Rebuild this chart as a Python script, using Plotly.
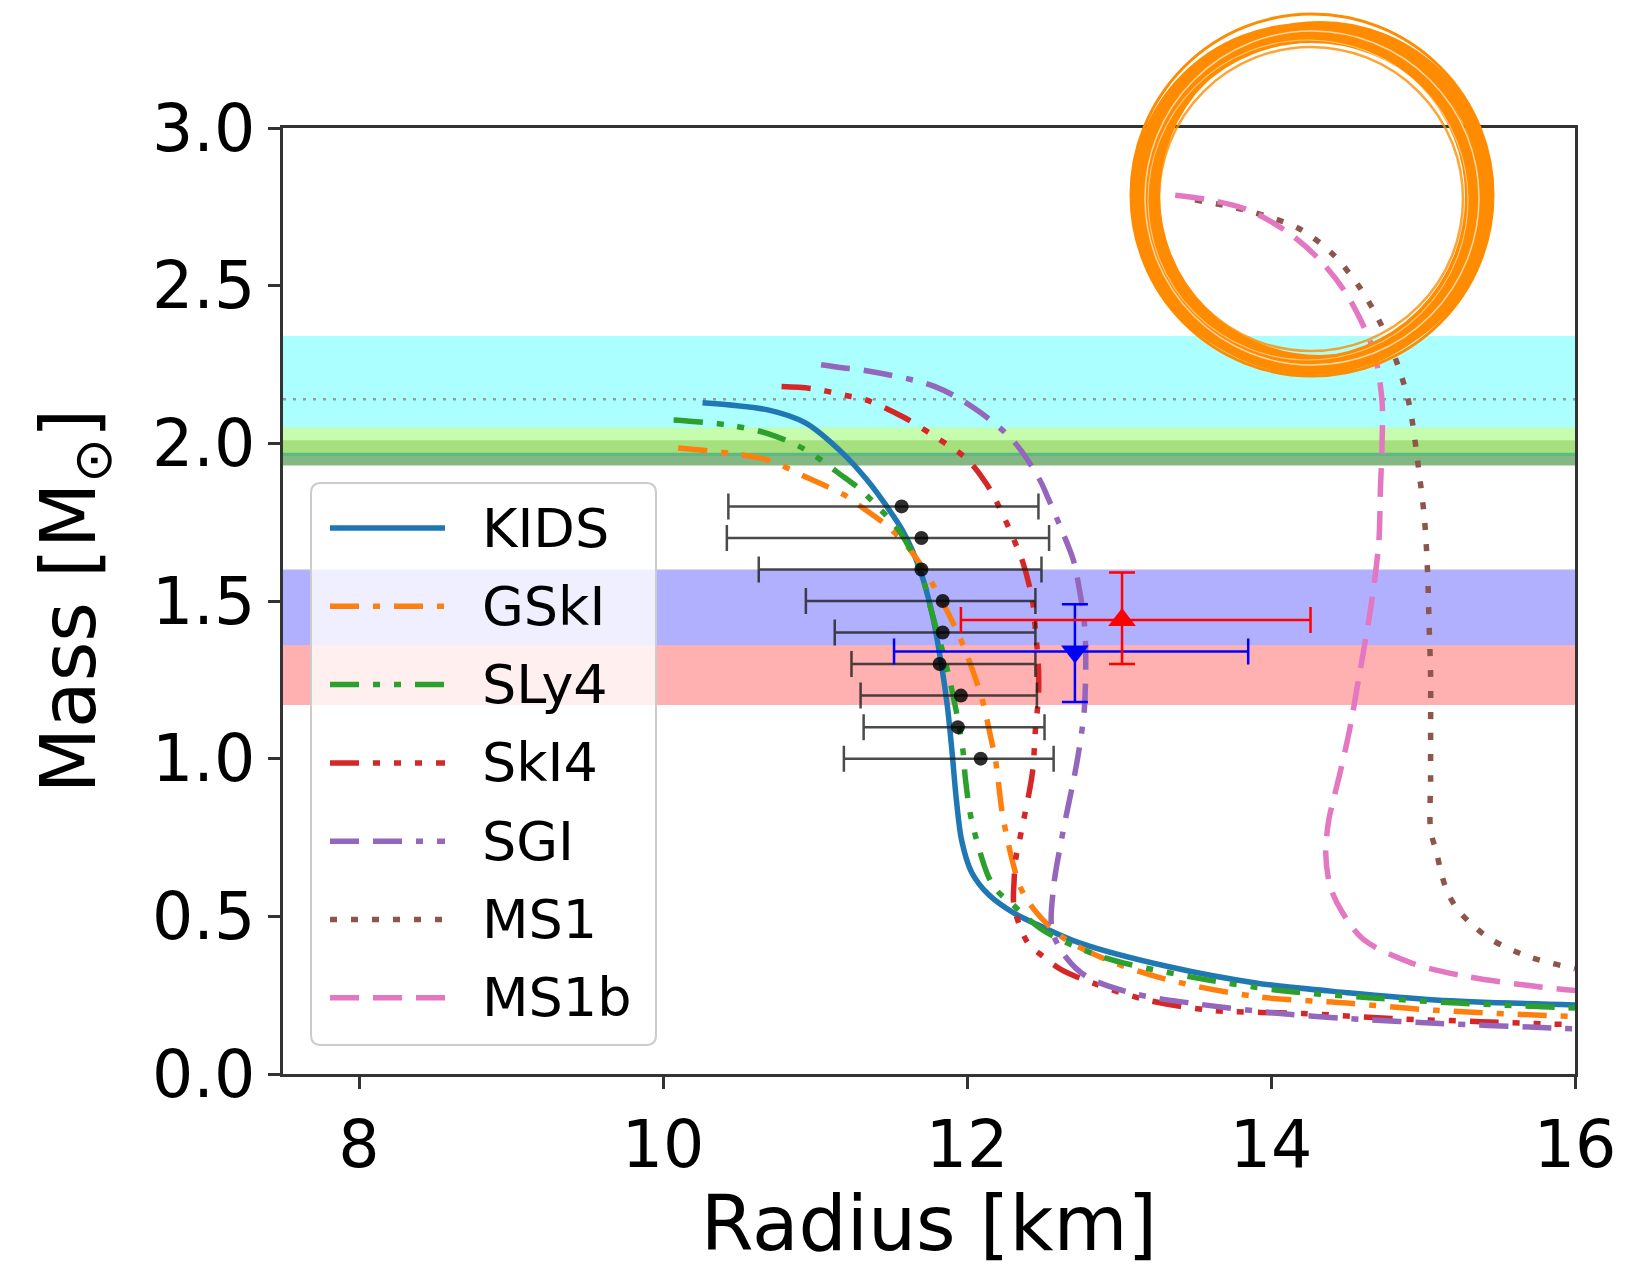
import plotly.graph_objects as go

# ---------------- axes ----------------
x_range = [7.5, 16.0]
y_range = [0.0, 3.0]
x_ticks = [8, 10, 12, 14, 16]
y_ticks = [0.0, 0.5, 1.0, 1.5, 2.0, 2.5, 3.0]

# ---------------- mass-radius curves (R in km, M in solar masses) ----------------
kids_r = [10.26, 10.69, 10.94, 11.19, 11.34, 11.45, 11.58, 11.69, 11.77, 11.83, 11.87,
          11.90, 11.93, 11.965, 12.03, 12.14, 12.31, 12.48, 12.74, 13.33, 13.91, 14.50,
          15.08, 16.00]
kids_m = [2.129, 2.106, 2.064, 1.965, 1.885, 1.815, 1.720, 1.600, 1.461, 1.303, 1.170,
          1.030, 0.870, 0.740, 0.640, 0.570, 0.510, 0.470, 0.416, 0.340, 0.288, 0.258,
          0.235, 0.219]

gski_r = [10.10, 10.43, 10.69, 10.94, 11.19, 11.30, 11.47, 11.61, 11.77, 11.94, 12.02, 12.10,
          12.15, 12.19, 12.24, 12.35, 12.44, 12.62, 12.91, 13.33, 13.91, 14.50, 15.08, 16.00]
gski_m = [1.985, 1.969, 1.947, 1.893, 1.837, 1.800, 1.740, 1.672, 1.557, 1.398, 1.303, 1.188,
          1.082, 0.987, 0.805, 0.594, 0.522, 0.436, 0.364, 0.298, 0.245, 0.225, 0.202, 0.182]

sly4_r = [10.07, 10.43, 10.69, 10.94, 11.19, 11.30, 11.39, 11.55, 11.69, 11.77, 11.86, 11.91,
          11.97, 11.99, 12.03, 12.14, 12.20, 12.29, 12.50, 12.88, 13.47, 14.06, 14.65, 15.23,
          16.00]
sly4_m = [2.074, 2.058, 2.031, 1.979, 1.893, 1.853, 1.810, 1.725, 1.600, 1.461, 1.303, 1.197,
          1.039, 0.934, 0.805, 0.627, 0.580, 0.542, 0.456, 0.373, 0.308, 0.265, 0.242, 0.225,
          0.209]

ski4_r = [10.78, 10.99, 11.19, 11.34, 11.59, 11.79, 12.00, 12.13, 12.21, 12.31, 12.37, 12.43,
          12.45, 12.47, 12.47, 12.45, 12.43, 12.35, 12.32, 12.31, 12.31, 12.40, 12.50, 12.62,
          12.83, 13.18, 13.61, 14.21, 14.79, 15.38, 16.00]
ski4_m = [2.180, 2.173, 2.153, 2.137, 2.081, 2.021, 1.950, 1.870, 1.800, 1.693, 1.619, 1.504,
          1.408, 1.291, 1.197, 1.092, 0.954, 0.752, 0.680, 0.614, 0.530, 0.416, 0.373, 0.331,
          0.288, 0.235, 0.202, 0.192, 0.176, 0.166, 0.156]

sgi_r = [11.04, 11.19, 11.32, 11.79, 12.07, 12.31, 12.48, 12.53, 12.61, 12.70, 12.74, 12.77,
         12.78, 12.78, 12.77, 12.74, 12.71, 12.63, 12.57, 12.56, 12.65, 12.79, 13.09, 13.47,
         14.06, 14.50, 15.08, 15.85, 16.00]
sgi_m = [2.249, 2.239, 2.232, 2.180, 2.104, 2.005, 1.883, 1.830, 1.740, 1.629, 1.535, 1.441,
         1.356, 1.250, 1.145, 1.038, 0.954, 0.764, 0.594, 0.456, 0.371, 0.308, 0.256, 0.225,
         0.192, 0.176, 0.161, 0.146, 0.143]

ms1_r = [13.50, 13.85, 14.18, 14.40, 14.58, 14.72, 14.83, 14.91, 14.97, 15.01, 15.03, 15.04,
         15.05, 15.05, 15.05, 15.05, 15.09, 15.12, 15.16, 15.23, 15.34, 15.45, 15.70, 16.00]
ms1_m = [2.772, 2.737, 2.682, 2.603, 2.497, 2.381, 2.254, 2.122, 1.923, 1.758, 1.593, 1.428,
         1.263, 1.099, 0.934, 0.774, 0.701, 0.637, 0.578, 0.520, 0.467, 0.426, 0.371, 0.334]

ms1b_r = [13.37, 13.57, 13.85, 14.12, 14.32, 14.48, 14.59, 14.68, 14.73, 14.73, 14.72, 14.71,
          14.68, 14.64, 14.58, 14.52, 14.46, 14.41, 14.38, 14.36, 14.39, 14.47, 14.61, 14.93,
          15.29, 15.67, 15.94, 16.00]
ms1b_m = [2.787, 2.774, 2.740, 2.666, 2.582, 2.486, 2.391, 2.285, 2.137, 1.988, 1.857, 1.692,
          1.560, 1.428, 1.263, 1.099, 0.967, 0.868, 0.805, 0.701, 0.594, 0.512, 0.426, 0.351,
          0.309, 0.282, 0.267, 0.265]

eos_names = ["KIDS", "GSkI", "SLy4", "SkI4", "SGI", "MS1", "MS1b"]
eos_r = [kids_r, gski_r, sly4_r, ski4_r, sgi_r, ms1_r, ms1b_r]
eos_m = [kids_m, gski_m, sly4_m, ski4_m, sgi_m, ms1_m, ms1b_m]
eos_colors = ["#1f77b4", "#ff7f0e", "#2ca02c", "#d62728", "#9467bd", "#8c564b", "#e377c2"]
eos_dash = ["solid",
            "29px,14px,7px,14px",
            "29px,14px,7px,14px,7px,14px",
            "29px,14px,7px,14px,7px,14px,7px,14px",
            "29px,14px,29px,14px,7px,14px",
            "7px,14px",
            "29px,14px"]

# ---------------- radius constraints at fixed masses ----------------
pt_m = [1.8, 1.7, 1.6, 1.5, 1.4, 1.3, 1.2, 1.1, 1.0]
pt_r = [11.57, 11.70, 11.70, 11.84, 11.84, 11.82, 11.96, 11.94, 12.09]
pt_r_lo = [10.43, 10.42, 10.63, 10.94, 11.13, 11.24, 11.30, 11.32, 11.19]
pt_r_hi = [12.47, 12.54, 12.49, 12.45, 12.45, 12.45, 12.46, 12.51, 12.57]

# ---------------- NICER PSR J0030+0451 ----------------
riley_r, riley_r_plus, riley_r_minus = 12.71, 1.14, 1.19
riley_m, riley_m_plus, riley_m_minus = 1.34, 0.15, 0.16
miller_r, miller_r_plus, miller_r_minus = 13.02, 1.24, 1.06
miller_m, miller_m_plus, miller_m_minus = 1.44, 0.15, 0.14

# ---------------- horizontal mass bands ----------------
j0740_m, j0740_plus, j0740_minus = 2.14, 0.20, 0.18
j1614_m, j1614_err = 1.97, 0.04
j0348_m, j0348_err = 2.01, 0.04
gw_m1 = [1.36, 1.60]
gw_m2 = [1.17, 1.36]

# ---------------- figure geometry (pixels) ----------------
W, H = 1630, 1268
ML, MR, MT, MB = 283, 55, 128, 194
PW, PH = W - ML - MR, H - MT - MB
FONT = "DejaVu Sans"
LW = 5.5


def fx(px):
    return (px - ML) / PW


def fy(py):
    return (H - MB - py) / PH


fig = go.Figure()

for name, r, m, col, dsh in zip(eos_names, eos_r, eos_m, eos_colors, eos_dash):
    fig.add_trace(go.Scatter(
        x=r, y=m, mode="lines", name=name, showlegend=False,
        line=dict(color=col, width=LW, dash=dsh, shape="spline", smoothing=0.9),
    ))

plus = [h - c for h, c in zip(pt_r_hi, pt_r)]
minus = [c - lo for c, lo in zip(pt_r, pt_r_lo)]
fig.add_trace(go.Scatter(
    x=pt_r, y=pt_m, mode="markers", showlegend=False,
    marker=dict(color="rgba(0,0,0,0.82)", size=14),
    error_x=dict(type="data", symmetric=False, array=plus, arrayminus=minus,
                 color="rgba(30,30,30,0.8)", thickness=2.5, width=13),
))

fig.add_trace(go.Scatter(
    x=[riley_r], y=[riley_m], mode="markers", showlegend=False,
    marker=dict(color="#0000ff", size=24, symbol="triangle-down"),
    error_x=dict(type="data", symmetric=False, array=[riley_r_plus], arrayminus=[riley_r_minus],
                 color="#0000ff", thickness=2.5, width=13),
    error_y=dict(type="data", symmetric=False, array=[riley_m_plus], arrayminus=[riley_m_minus],
                 color="#0000ff", thickness=2.5, width=13),
))
fig.add_trace(go.Scatter(
    x=[miller_r], y=[miller_m], mode="markers", showlegend=False,
    marker=dict(color="#ff0000", size=24, symbol="triangle-up"),
    error_x=dict(type="data", symmetric=False, array=[miller_r_plus], arrayminus=[miller_r_minus],
                 color="#ff0000", thickness=2.5, width=13),
    error_y=dict(type="data", symmetric=False, array=[miller_m_plus], arrayminus=[miller_m_minus],
                 color="#ff0000", thickness=2.5, width=13),
))

shapes = []
# mass bands, spanning the full radius range
band_specs = [
    (j0740_m - j0740_minus, j0740_m + j0740_plus, "rgba(0,255,255,0.33)"),
    (j1614_m - j1614_err, j1614_m + j1614_err, "rgba(30,125,30,0.55)"),
    (j0348_m - j0348_err, j0348_m + j0348_err, "rgba(215,250,120,0.6)"),
    (gw_m1[0], gw_m1[1], "rgba(0,0,255,0.31)"),
    (gw_m2[0], gw_m2[1], "rgba(255,0,0,0.31)"),
]
for y0, y1, col in band_specs:
    shapes.append(dict(type="rect", xref="paper", yref="y", x0=0, x1=1, y0=y0, y1=y1,
                       fillcolor=col, line=dict(width=0), layer="below"))
shapes.append(dict(type="line", xref="paper", yref="y", x0=0, x1=1, y0=j0740_m, y1=j0740_m,
                   line=dict(color="rgba(128,128,128,0.75)", width=2.5, dash="3px,7px"),
                   layer="below"))

# legend frame with rounded corners
lx0, lx1, ly0, ly1, rad = 311, 656, 483, 1045, 10
rx, ry = rad / PW, rad / PH
X0, X1, Y0, Y1 = fx(lx0), fx(lx1), fy(ly1), fy(ly0)
path = (f"M{X0 + rx},{Y0} L{X1 - rx},{Y0} Q{X1},{Y0} {X1},{Y0 + ry} "
        f"L{X1},{Y1 - ry} Q{X1},{Y1} {X1 - rx},{Y1} L{X0 + rx},{Y1} "
        f"Q{X0},{Y1} {X0},{Y1 - ry} L{X0},{Y0 + ry} Q{X0},{Y0} {X0 + rx},{Y0} Z")
shapes.append(dict(type="path", xref="paper", yref="paper", path=path,
                   fillcolor="rgba(255,255,255,0.8)", line=dict(color="#cccccc", width=2),
                   layer="above"))

annotations = []
row0, row_step = 528, 78.3
for i, (name, col, dsh) in enumerate(zip(eos_names, eos_colors, eos_dash)):
    yy = fy(row0 + i * row_step)
    shapes.append(dict(type="line", xref="paper", yref="paper", x0=fx(330), x1=fx(445),
                       y0=yy, y1=yy, line=dict(color=col, width=LW, dash=dsh), layer="above"))
    annotations.append(dict(xref="paper", yref="paper", x=fx(480), y=yy, text=name,
                            showarrow=False, xanchor="left", yanchor="middle",
                            font=dict(family=FONT, size=54, color="black")))

# hand-drawn highlight ring around the heaviest configurations
ring_specs = [
    (1305, 197, 167, 14, "#ff8c00"),
    (1320, 195, 167, 14, "#ff8c00"),
    (1312, 204, 166, 10, "#ff8c00"),
    (1312, 195, 181, 3, "#ff8c00"),
    (1311, 199, 152, 2.5, "rgba(255,140,0,0.8)"),
    (1312, 198, 167, 1.5, "rgba(255,255,255,0.65)"),
    (1308, 200, 160, 1.2, "rgba(255,255,255,0.5)"),
]
for cx, cy, rr, lw, col in ring_specs:
    shapes.append(dict(type="circle", xref="paper", yref="paper",
                       x0=fx(cx - rr), x1=fx(cx + rr), y0=fy(cy + rr), y1=fy(cy - rr),
                       line=dict(color=col, width=lw), layer="above"))

axis_common = dict(
    showline=True, linecolor="#333333", linewidth=2.5, mirror=True,
    ticks="outside", ticklen=12, tickwidth=2.5, tickcolor="#333333",
    showgrid=False, zeroline=False,
    tickfont=dict(family=FONT, size=65, color="black"),
)

fig.update_layout(
    width=W, height=H,
    margin=dict(l=ML, r=MR, t=MT, b=MB, autoexpand=False),
    paper_bgcolor="white", plot_bgcolor="white",
    showlegend=False,
    xaxis=dict(range=x_range, tickvals=x_ticks, ticktext=[str(v) for v in x_ticks],
               title=dict(text="Radius [km]", font=dict(family=FONT, size=76, color="black"),
                          standoff=28),
               **axis_common),
    yaxis=dict(range=y_range, tickvals=y_ticks, ticktext=[f"{v:.1f}" for v in y_ticks],
               title=dict(text="Mass [M<sub>⊙</sub>]", font=dict(family=FONT, size=76, color="black"),
                          standoff=32),
               **axis_common),
    shapes=shapes,
    annotations=annotations,
)

fig.write_html("out.html")
